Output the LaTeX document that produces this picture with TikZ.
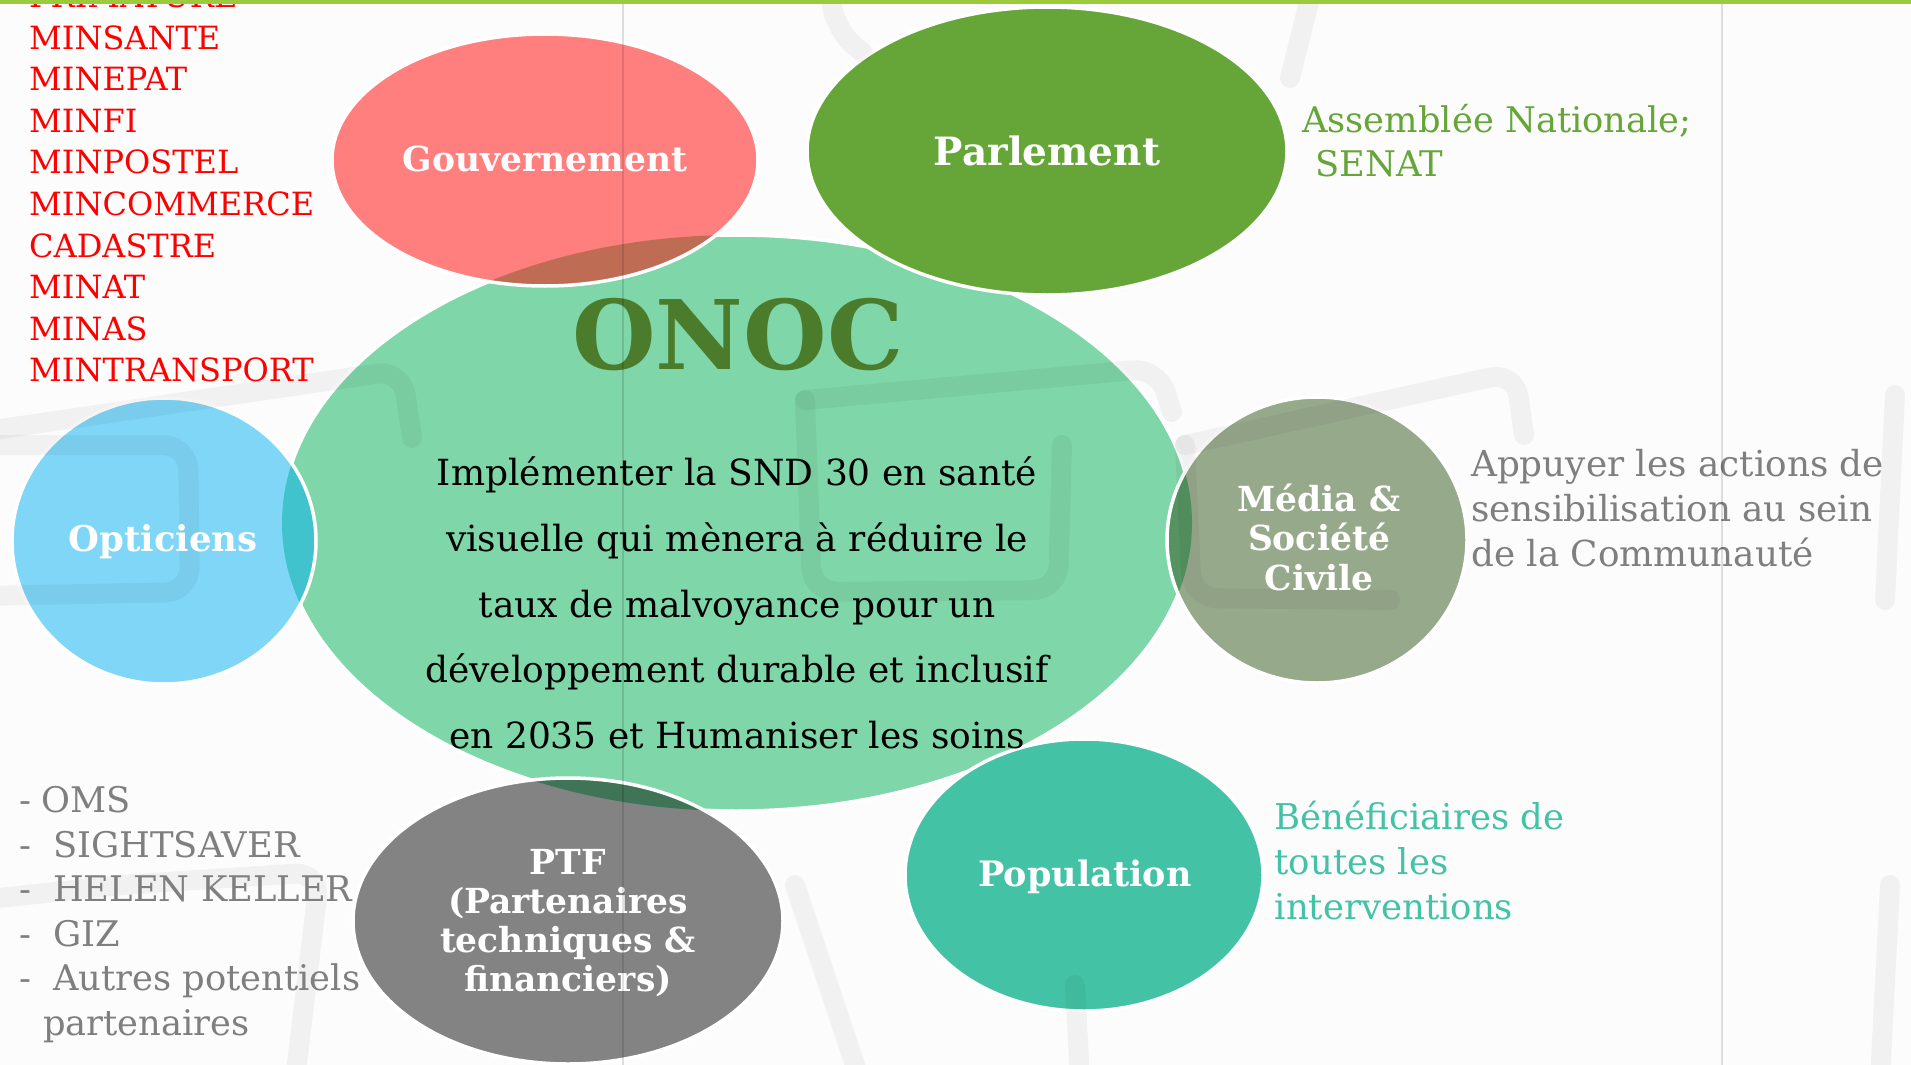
\documentclass[tikz,border=0pt]{standalone}
\usepackage{fontspec}
\setmainfont{DejaVu Serif}

\definecolor{fond}{HTML}{FCFCFC}
\definecolor{vertbarre}{HTML}{9BCB3B}
\definecolor{vertonoc}{HTML}{7FD6A8}
\definecolor{rougegouv}{HTML}{FF7F7F}
\definecolor{brungouv}{HTML}{BF6C55}
\definecolor{vertparl}{HTML}{66A638}
\definecolor{bleuopt}{HTML}{7FD6F6}
\definecolor{cyanopt}{HTML}{40C3CC}
\definecolor{grismedia}{HTML}{97A98B}
\definecolor{vertmedia}{HTML}{559461}
\definecolor{grisptf}{HTML}{838383}
\definecolor{vertptf}{HTML}{3F7456}
\definecolor{turqpop}{HTML}{44C2A5}
\definecolor{vertfonce}{HTML}{4B7C2B}
\definecolor{gristexte}{HTML}{7F7F7F}

\tikzset{
  bord/.style={draw=white, line width=3.5pt},
  lunette/.style={black, opacity=0.045, line width=20pt, line cap=round, line join=round, rounded corners=25pt},
  etiquette/.style={text=white, align=center, anchor=base, inner sep=0pt,
    font=\bfseries\fontsize{34.5}{39.2}\selectfont},
  liste/.style={align=left, anchor=base west, inner sep=0pt}
}

\begin{document}
\begin{tikzpicture}[x=1pt, y=-1pt]
    \useasboundingbox (0,0) rectangle (1911,1065);
    \fill[fond] (0,0) rectangle (1911,1065);
    % centres des bulles
    \coordinate (c-onoc) at (737,523);
    \coordinate (c-gouv) at (545,160);
    \coordinate (c-parl) at (1047,151);
    \coordinate (c-opt) at (164,541);
    \coordinate (c-media) at (1317,540);
    \coordinate (c-ptf) at (568,921);
    \coordinate (c-pop) at (1084,875);
    % ONOC
    \fill[vertonoc] (c-onoc) ellipse [x radius=455, y radius=288];
    \draw[bord] (c-onoc) ellipse [x radius=455, y radius=288];
    % Parlement
    \fill[vertparl] (c-parl) ellipse [x radius=240, y radius=144];
    \draw[bord] (c-parl) ellipse [x radius=240, y radius=144];
    % Gouvernement
    \fill[rougegouv] (c-gouv) ellipse [x radius=213, y radius=126];
    \begin{scope}
        \clip (c-gouv) ellipse [x radius=213, y radius=126];
        \fill[brungouv] (c-onoc) ellipse [x radius=455, y radius=288];
    \end{scope}
    \draw[bord] (c-gouv) ellipse [x radius=213, y radius=126];
    % Opticiens
    \fill[bleuopt] (c-opt) ellipse [x radius=152, y radius=143];
    \begin{scope}
        \clip (c-opt) ellipse [x radius=152, y radius=143];
        \fill[cyanopt] (c-onoc) ellipse [x radius=455, y radius=288];
    \end{scope}
    \draw[bord] (c-opt) ellipse [x radius=152, y radius=143];
    % Media
    \fill[grismedia] (c-media) ellipse [x radius=150, y radius=143];
    \begin{scope}
        \clip (c-media) ellipse [x radius=150, y radius=143];
        \fill[vertmedia] (c-onoc) ellipse [x radius=455, y radius=288];
    \end{scope}
    \draw[bord] (c-media) ellipse [x radius=150, y radius=143];
    % PTF
    \fill[grisptf] (c-ptf) ellipse [x radius=215, y radius=143];
    \begin{scope}
        \clip (c-ptf) ellipse [x radius=215, y radius=143];
        \fill[vertptf] (c-onoc) ellipse [x radius=455, y radius=288];
    \end{scope}
    \draw[bord] (c-ptf) ellipse [x radius=215, y radius=143];
    % Population
    \fill[turqpop] (c-pop) ellipse [x radius=179, y radius=136];
    \draw[bord] (c-pop) ellipse [x radius=179, y radius=136];
    % lunettes en filigrane
    \draw[lunette] (830,-10) -- (835,30) -- (862,52);
    \draw[lunette] (1312,-10) -- (1290,78);
    \draw[lunette] (-20,432) -- (402,370) -- (412,438);
    \draw[lunette] (-20,445) -- (188,445) -- (190,592) -- (-20,596);
    \draw[lunette] (805,400) -- (1158,368) -- (1172,412);
    \draw[lunette] (805,400) -- (812,592) -- (1058,590) -- (1062,445);
    \draw[lunette] (1185,445) -- (1515,372) -- (1524,435);
    \draw[lunette] (1185,445) -- (1192,598) -- (1390,600);
    \draw[lunette] (1895,395) -- (1885,600);
    \draw[lunette] (-20,900) -- (120,885) -- (320,872) -- (295,1080);
    \draw[lunette] (795,885) -- (860,1080);
    \draw[lunette] (1075,985) -- (1080,1080);
    \draw[lunette] (1890,885) -- (1880,1080);
    % titres des bulles (ancre = ligne de base de la derniere ligne)
    \node[text=vertfonce, anchor=base, inner sep=0pt, font=\bfseries\fontsize{96}{96}\selectfont] (onoc) at (738,369) {ONOC};
    \node[anchor=base, align=center, inner sep=0pt, font=\fontsize{36}{65.6}\selectfont] (mission) at (737,748.3)
        {Implémenter la SND 30 en santé\\visuelle qui mènera à réduire le\\taux de malvoyance pour un\\développement durable et inclusif\\en 2035 et Humaniser les soins};
    \node[etiquette] (gouv) at (545,171) {Gouvernement};
    \node[etiquette, font=\bfseries\fontsize{39}{40}\selectfont] (parl) at (1047,165.7) {Parlement};
    \node[etiquette, font=\bfseries\fontsize{35.5}{40}\selectfont] (opt) at (163,551.7) {Opticiens};
    \node[etiquette] (media) at (1319,590) {Média \&\\Société\\Civile};
    \node[etiquette] (ptf) at (568,991.7) {PTF\\(Partenaires\\techniques \&\\financiers)};
    \node[etiquette, font=\bfseries\fontsize{35}{40}\selectfont] (pop) at (1085,886.7) {Population};
    % textes a cote
    \node[liste, text=red, font=\fontsize{32}{41.55}\selectfont] (ministeres) at (29,381.7)
        {PRIMATURE\\MINSANTE\\MINEPAT\\MINFI\\MINPOSTEL\\MINCOMMERCE\\CADASTRE\\MINAT\\MINAS\\MINTRANSPORT};
    \node[liste, text=vertparl, font=\fontsize{35.3}{43.3}\selectfont] (chambres) at (1302,176)
        {Assemblée Nationale;\\\hspace{13pt}SENAT};
    \node[liste, text=gristexte, font=\fontsize{35.8}{45}\selectfont] (role) at (1471,566.7)
        {Appuyer les actions de\\sensibilisation au sein\\de la Communauté};
    \node[liste, text=turqpop, font=\fontsize{35.5}{45}\selectfont] (benef) at (1274.5,919)
        {Bénéficiaires de\\toutes les\\interventions};
    \node[liste, text=gristexte, font=\fontsize{35.3}{44.5}\selectfont] (partenaires) at (19,1035)
        {\makebox[22pt][l]{-}OMS\\\makebox[34pt][l]{-}SIGHTSAVER\\\makebox[34pt][l]{-}HELEN KELLER\\\makebox[34pt][l]{-}GIZ\\\makebox[34pt][l]{-}Autres potentiels\\\hspace{24pt}partenaires};
    % lignes du cadre
    \fill[vertbarre] (0,0) rectangle (1911,4);
    \draw[black, opacity=0.12, line width=1.5pt] (623,4) -- (623,1065);
    \draw[black, opacity=0.12, line width=1.5pt] (1722,4) -- (1722,1065);
\end{tikzpicture}
\end{document}
